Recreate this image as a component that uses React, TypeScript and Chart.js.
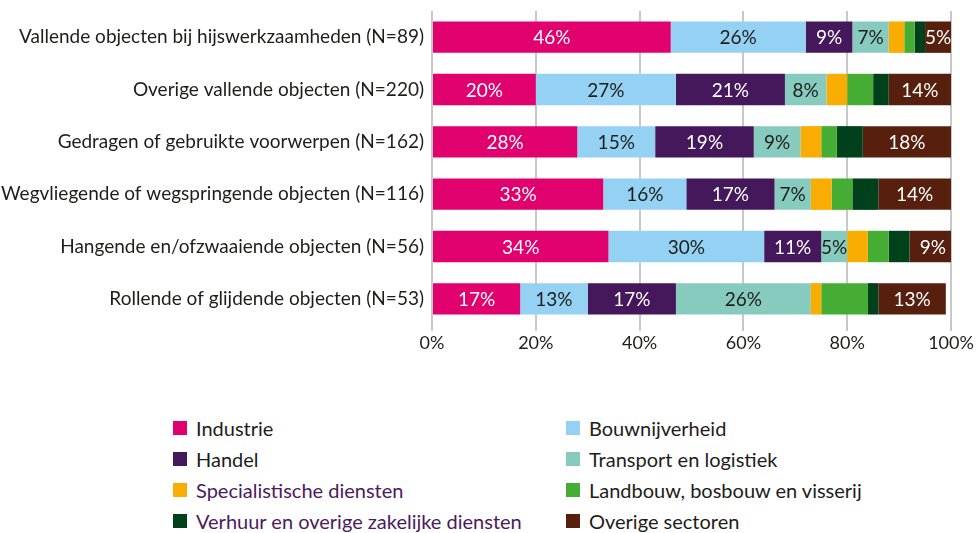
import React, { useEffect, useRef } from "react";
import { Chart, registerables } from "chart.js";
Chart.register(...registerables);

const categories = [
  "Vallende objecten bij hijswerkzaamheden (N=89)",
  "Overige vallende objecten (N=220)",
  "Gedragen of gebruikte voorwerpen (N=162)",
  "Wegvliegende of wegspringende objecten (N=116)",
  "Hangende en/ofzwaaiende objecten (N=56)",
  "Rollende of glijdende objecten (N=53)",
];
const industrie = [46, 20, 28, 33, 34, 17];
const bouwnijverheid = [26, 27, 15, 16, 30, 13];
const handel = [9, 21, 19, 17, 11, 17];
const transport = [7, 8, 9, 7, 5, 26];
const specialistisch = [3, 4, 4, 4, 4, 2];
const landbouw = [2, 5, 3, 4, 4, 9];
const verhuur = [2, 3, 5, 5, 4, 2];
const overige = [5, 12, 17, 14, 9, 13];
const overigeLabels = [5, 14, 18, 14, 9, 13];
const xTicks = [0, 20, 40, 60, 80, 100];

const FONT = "Lato";
const TEXT = "#1d1d1b";
const PURPLE_TEXT = "#4b1a5f";

const seriesDefs = [
  { name: "Industrie", data: industrie, color: "#e0006e", labels: industrie, labelColor: "#ffffff", legendColor: TEXT },
  { name: "Bouwnijverheid", data: bouwnijverheid, color: "#94d1f2", labels: bouwnijverheid, labelColor: "#1d1d1b", legendColor: TEXT },
  { name: "Handel", data: handel, color: "#45185c", labels: handel, labelColor: "#ffffff", legendColor: TEXT },
  { name: "Transport en logistiek", data: transport, color: "#87cbbf", labels: transport, labelColor: "#1d1d1b", legendColor: TEXT },
  { name: "Specialistische diensten", data: specialistisch, color: "#f9ad00", labels: null, labelColor: "", legendColor: PURPLE_TEXT },
  { name: "Landbouw, bosbouw en visserij", data: landbouw, color: "#46ad34", labels: null, labelColor: "", legendColor: TEXT },
  { name: "Verhuur en overige zakelijke diensten", data: verhuur, color: "#00401a", labels: null, labelColor: "", legendColor: PURPLE_TEXT },
  { name: "Overige sectoren", data: overige, color: "#57200e", labels: overigeLabels, labelColor: "#ffffff", legendColor: TEXT },
];

const legendOrder = [0, 1, 2, 3, 4, 5, 6, 7];

const labelPlugin = {
  id: "segLabels",
  afterDatasetsDraw(chart: any) {
    const ctx = chart.ctx;
    ctx.save();
    ctx.font = `19px ${FONT}`;
    ctx.textAlign = "center";
    ctx.textBaseline = "middle";
    chart.data.datasets.forEach((ds: any, di: number) => {
      const def = seriesDefs[di];
      if (!def.labels) return;
      const meta = chart.getDatasetMeta(di);
      meta.data.forEach((el: any, i: number) => {
        const cx = (el.x + el.base) / 2;
        ctx.fillStyle = def.labelColor;
        ctx.fillText(`${def.labels![i]}%`, cx, el.y + 1);
      });
    });
    ctx.restore();
  },
};

export default function App() {
  const ref = useRef<HTMLCanvasElement | null>(null);
  useEffect(() => {
    if (!ref.current) return;
    const chart = new Chart(ref.current, {
      type: "bar",
      data: {
        labels: categories,
        datasets: seriesDefs.map((s) => ({
          label: s.name,
          data: s.data,
          backgroundColor: s.color,
          borderWidth: 0,
          categoryPercentage: 0.6,
          barPercentage: 1,
        })),
      },
      options: {
        indexAxis: "y",
        animation: false,
        responsive: false,
        maintainAspectRatio: false,
        layout: { padding: { left: 0, right: 25, top: 11, bottom: 0 } },
        plugins: { legend: { display: false }, tooltip: { enabled: false } },
        scales: {
          x: {
            stacked: true,
            min: 0,
            max: 100,
            afterFit: (s: any) => { s.height = 50; },
            afterBuildTicks: (s: any) => { s.ticks = xTicks.map((v) => ({ value: v })); },
            grid: { color: "#c8c8c8", lineWidth: 2, tickLength: 6, drawTicks: true },
            border: { display: false },
            ticks: {
              font: { family: FONT, size: 18 },
              color: TEXT,
              padding: 1,
              maxRotation: 0,
              callback: (v: any) => `${v}%`,
            },
          },
          y: {
            stacked: true,
            afterFit: (s: any) => { s.width = 432; s.paddingTop = 0; s.paddingBottom = 0; },
            grid: { display: false, drawTicks: false, tickLength: 0 },
            border: { display: false },
            ticks: { font: { family: FONT, size: 19 }, color: TEXT, padding: 8 },
          },
        },
      },
      plugins: [labelPlugin],
    });
    return () => chart.destroy();
  }, []);

  return (
    <div style={{ position: "absolute", left: 0, top: 0, width: 976, height: 533, background: "#fff", fontFamily: FONT }}>
      <canvas ref={ref} width={976} height={375} style={{ position: "absolute", left: 0, top: 0, width: 976, height: 375 }} />
      <div style={{ position: "absolute", left: 173, top: 412, display: "grid", gridTemplateColumns: "393px 393px", gridAutoRows: "31px" }}>
        {legendOrder.map((i) => {
          const s = seriesDefs[i];
          return (
            <div key={s.name} style={{ display: "flex", alignItems: "center", height: 31 }}>
              <span style={{ display: "inline-block", width: 14, height: 14, background: s.color, marginRight: 9, flexShrink: 0 }} />
              <span style={{ fontSize: 20, color: s.legendColor, whiteSpace: "nowrap" }}>{s.name}</span>
            </div>
          );
        })}
      </div>
    </div>
  );
}
